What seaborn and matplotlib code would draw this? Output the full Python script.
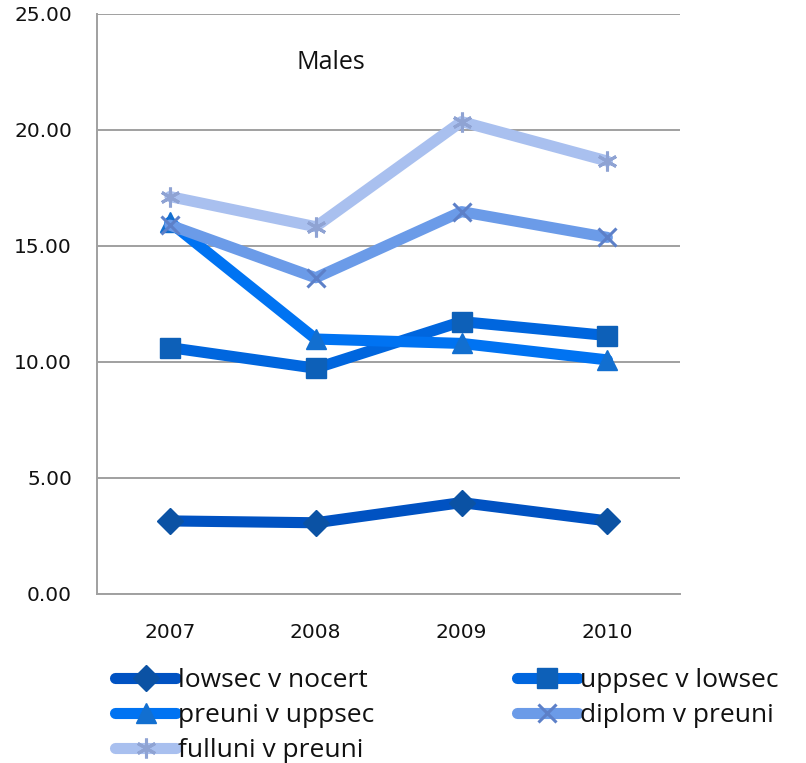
import matplotlib
matplotlib.use("Agg")
import matplotlib.pyplot as plt
import seaborn as sns
import pandas as pd
import matplotlib.patheffects as pe
from matplotlib.ticker import FixedLocator, FormatStrFormatter

# Data
years = ["2007", "2008", "2009", "2010"]
lowsec_v_nocert = [3.15, 3.07, 3.94, 3.15]
uppsec_v_lowsec = [10.62, 9.73, 11.74, 11.14]
preuni_v_uppsec = [16.03, 10.99, 10.80, 10.09]
diplom_v_preuni = [15.90, 13.63, 16.48, 15.37]
fulluni_v_preuni = [17.13, 15.83, 20.36, 18.66]

series_names = ["lowsec v nocert", "uppsec v lowsec", "preuni v uppsec",
                "diplom v preuni", "fulluni v preuni"]
series_values = [lowsec_v_nocert, uppsec_v_lowsec, preuni_v_uppsec,
                 diplom_v_preuni, fulluni_v_preuni]

line_colors = ["#0052c2", "#0066de", "#0073f2", "#6b9be8", "#a9c0ef"]
marker_colors = ["#0b52a4", "#0d60b8", "#126fd0", "#5d80c8", "#8fa3d3"]
markers = ["D", "s", "^", "x", (6, 2, 0)]
marker_sizes = [17, 18.5, 19, 18, 19]

sns.set_style("white")
plt.rcParams["font.family"] = ["Open Sans", "DejaVu Sans"]

fig = plt.figure(figsize=(8.06, 7.63), dpi=100)
ax = fig.add_axes([0.1203, 0.2215, 0.7237, 0.7602])

for name, vals, lc, mc, mk, ms in zip(series_names, series_values, line_colors,
                                       marker_colors, markers, marker_sizes):
    frame = pd.DataFrame({"year": years, "value": vals})
    sns.lineplot(data=frame, x="year", y="value", color=lc, linewidth=6.5,
                 marker=mk, markersize=ms, markerfacecolor=mc, markeredgecolor=mc,
                 markeredgewidth=2.2 if mk in ("x", (6, 2, 0)) else 1,
                 solid_capstyle="round", solid_joinstyle="round",
                 sort=False, label=name, ax=ax)
    line = ax.get_lines()[-1]
    line.set_path_effects([
        pe.SimpleLineShadow(offset=(2, -3), shadow_color="#000000", alpha=0.15, rho=1),
        pe.Normal(),
    ])

ax.set_xlim(-0.5, 3.5)
ax.set_ylim(0, 25)
ax.set_xlabel("")
ax.set_ylabel("")

ax.yaxis.set_major_locator(FixedLocator([0, 5, 10, 15, 20, 25]))
ax.yaxis.set_major_formatter(FormatStrFormatter("%.2f"))
ax.yaxis.grid(True, color="#a0a0a0", linewidth=1.4)
ax.xaxis.grid(False)
ax.set_axisbelow(True)

ax.xaxis.set_minor_locator(FixedLocator([-0.5, 0.5, 1.5, 2.5, 3.5]))
ax.tick_params(axis="x", which="major", length=0, pad=21, labelsize=14.5, labelcolor="#111111")
ax.tick_params(axis="x", which="minor", length=8, width=1.4, color="#a0a0a0", direction="out")
ax.tick_params(axis="y", which="major", length=7, width=1.4, color="#a0a0a0", direction="out",
               pad=11, labelsize=14.5, labelcolor="#111111")
for lab in ax.get_xticklabels() + ax.get_yticklabels():
    lab.set_fontfamily("DejaVu Sans")

for side in ("top", "right"):
    ax.spines[side].set_visible(False)
for side in ("left", "bottom"):
    ax.spines[side].set_color("#a0a0a0")
    ax.spines[side].set_linewidth(1.4)

ax.text(0.401, 0.917, "Males", transform=ax.transAxes, ha="center", va="center",
        fontsize=18, color="#111111")

handles, labels = ax.get_legend_handles_labels()
for h, ms in zip(handles, marker_sizes):
    h.set_linewidth(8)
    h.set_solid_capstyle("round")
    h.set_markersize(ms * 0.75)
    h.set_path_effects([])
# legend entries fill row by row: reorder for matplotlib's column-wise layout
order = [0, 2, 4, 1, 3]
ax.legend([handles[i] for i in order], [labels[i] for i in order],
          loc="upper left", bbox_to_anchor=(0.143, 0.124),
          bbox_transform=fig.transFigure, ncol=2, frameon=False,
          fontsize=19, handlelength=2.3, handletextpad=0.08,
          columnspacing=5.4, labelspacing=0.38, borderaxespad=0, borderpad=0,
          labelcolor="#111111")

fig.savefig("out.png", dpi=100, facecolor="white")
